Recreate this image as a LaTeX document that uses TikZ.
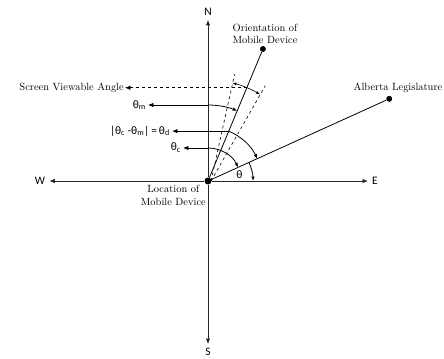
\documentclass[tikz,border=0pt]{standalone}
\usepackage{fontspec}
\newfontfamily\thfont{Carlito}
\usetikzlibrary{calc,arrows.meta,positioning}
\tikzset{
	>={Latex[length=5.5pt,width=4.5pt]},
	dot/.style={circle, fill=black, inner sep=0pt, minimum size=6pt},
	bigdot/.style={circle, fill=black, inner sep=0pt, minimum size=7pt},
	compass/.style={font=\thfont\fontsize{11.5}{12}\selectfont, inner sep=4pt},
	lbl/.style={font=\fontsize{10.5}{12.5}\selectfont, inner sep=1pt, align=center},
	thlbl/.style={font=\thfont\fontsize{11.5}{12}\selectfont, inner sep=2pt, anchor=east},
	axis/.style={->, line width=0.9pt, draw=black!85},
	bearing/.style={line width=0.8pt},
	angarc/.style={->, >={Latex[length=4.5pt,width=3.5pt]}, line width=0.8pt},
	pointer/.style={->, line width=0.8pt},
	viewline/.style={dashed, line width=0.6pt},
	viewarc/.style={<->, >={Latex[length=4pt,width=3pt]}, line width=0.6pt}
}
\begin{document}
\begin{tikzpicture}[x=1bp,y=1bp]
	\useasboundingbox (-208,-177) rectangle (236,181);
	% compass
	\node[bigdot] (loc) at (0,0) {};
	\node[compass] (N) at (0,169) {N};
	\node[compass] (S) at (0,-171) {S};
	\node[compass] (W) at (-168,0) {W};
	\node[compass] (E) at (167,0) {E};
	\draw[axis] (loc) -- (N);
	\draw[axis] (loc) -- (S);
	\draw[axis] (loc) -- (W);
	\draw[axis] (loc) -- (E);
	% device and target
	\node[dot] (dev) at (67.4:143) {};
	\node[dot] (leg) at (24.4:199) {};
	\draw[bearing] (loc) -- (dev);
	\draw[bearing] (loc) -- (leg);
	\node[lbl] (devlbl) at (57,147) {Orientation of\\Mobile Device};
	\node[lbl] (leglbl) at (190,93) {Alberta Legislature};
	\node[lbl, anchor=north east] (loclbl) at (-1,-3) {Location of\\Mobile Device};
	% screen viewable angle
	\coordinate (vl) at (76:110);
	\coordinate (vr) at (59:111);
	\coordinate (vm) at (67.4:101);
	\draw[viewline] ($(loc.center)+(3,0)$) -- (vl);
	\draw[viewline] ($(loc.center)+(3,0)$) -- (vr);
	\draw[viewarc] (76:101) arc[start angle=76, end angle=59, radius=101];
	\node[lbl, anchor=east] (svlbl) at (-83,93.2) {Screen Viewable Angle};
	\draw[viewline, ->] (vm) -- (vm -| svlbl.east);
	% angles
	\coordinate (m0) at (90:76);
	\coordinate (d0) at (67.4:54);
	\coordinate (c0) at (90:33);
	\draw[angarc] (m0) arc[start angle=90, end angle=67.4, radius=76];
	\draw[angarc] (d0) arc[start angle=67.4, end angle=24.4, radius=54];
	\draw[angarc] (c0) arc[start angle=90, end angle=24.4, radius=33];
	\draw[angarc] (24.4:45) arc[start angle=24.4, end angle=0, radius=45];
	\node[thlbl] (thm) at (-60,76) {θ\textsubscript{m}};
	\node[thlbl] (thd) at (-36,50) {|θ\textsubscript{c} -θ\textsubscript{m}|\,=\,θ\textsubscript{d}};
	\node[thlbl] (thc) at (-25,33) {θ\textsubscript{c}};
	\node[font=\thfont\fontsize{11.5}{12}\selectfont] (th) at (11:32) {θ};
	\draw[pointer] (m0) -- (m0 -| thm.east);
	\draw[pointer] (d0) -- (d0 -| thd.east);
	\draw[pointer] (c0) -- (c0 -| thc.east);
\end{tikzpicture}
\end{document}
